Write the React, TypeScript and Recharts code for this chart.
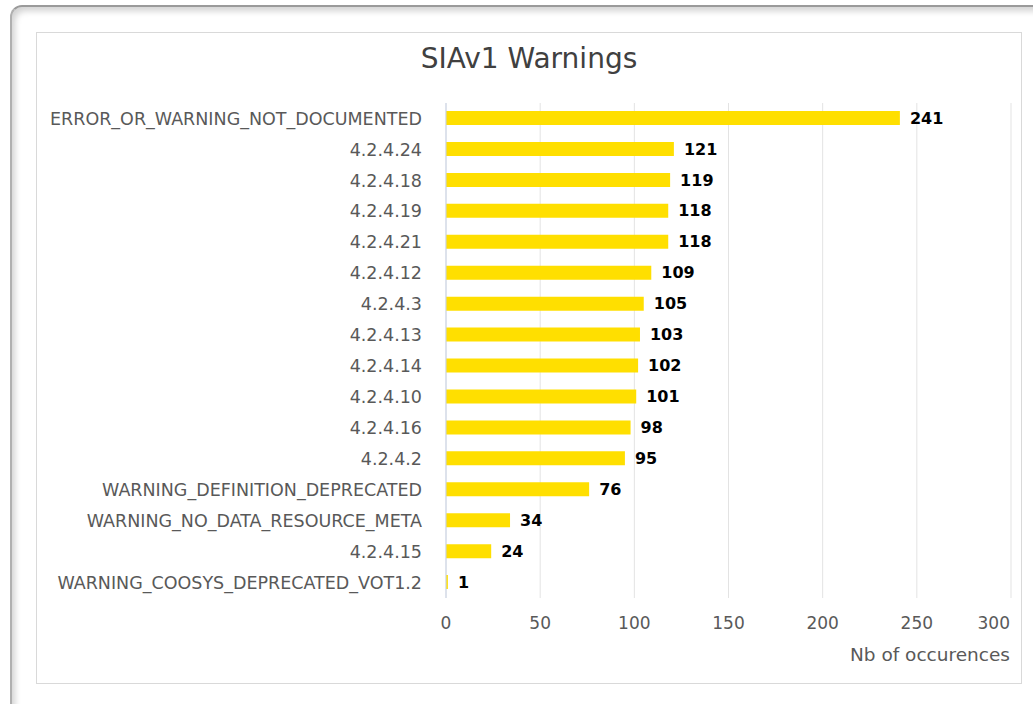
import { BarChart, Bar, XAxis, YAxis, CartesianGrid, LabelList } from "recharts";

const categories = [
  "ERROR_OR_WARNING_NOT_DOCUMENTED",
  "4.2.4.24",
  "4.2.4.18",
  "4.2.4.19",
  "4.2.4.21",
  "4.2.4.12",
  "4.2.4.3",
  "4.2.4.13",
  "4.2.4.14",
  "4.2.4.10",
  "4.2.4.16",
  "4.2.4.2",
  "WARNING_DEFINITION_DEPRECATED",
  "WARNING_NO_DATA_RESOURCE_META",
  "4.2.4.15",
  "WARNING_COOSYS_DEPRECATED_VOT1.2",
];
const counts = [241, 121, 119, 118, 118, 109, 105, 103, 102, 101, 98, 95, 76, 34, 24, 1];
const xTicks = [0, 50, 100, 150, 200, 250, 300];

const data = categories.map((name, i) => ({ name, count: counts[i] }));

const FONT = "'DejaVu Sans', Verdana, sans-serif";

const XTick = (props: any) => {
  const { x, y, payload } = props;
  const last = payload.value === xTicks[xTicks.length - 1];
  return (
    <text
      x={last ? x + 1 : x}
      y={y}
      dy="0.71em"
      textAnchor={last ? "end" : "middle"}
      fill="#595959"
      fontSize={17}
      fontFamily={FONT}
    >
      {payload.value}
    </text>
  );
};

export default function App() {
  return (
    <div
      style={{
        position: "absolute",
        left: 0,
        top: 0,
        width: 1033,
        height: 704,
        background: "#fff",
        overflow: "hidden",
      }}
    >
      {/* window frame */}
      <div
        style={{
          position: "absolute",
          left: 10,
          top: 5,
          width: 1200,
          height: 900,
          borderRadius: 12,
          borderTop: "2px solid #9a9a9a",
          borderLeft: "2px solid #b0b0b0",
          boxShadow: "inset 3px 4px 6px rgba(0,0,0,0.18)",
        }}
      />
      {/* chart box */}
      <div
        style={{
          position: "absolute",
          left: 36,
          top: 32,
          width: 984,
          height: 650,
          border: "1px solid #d9d9d9",
          background: "#fff",
        }}
      >
        <div
          style={{
            position: "absolute",
            left: 0,
            width: 984,
            top: 9,
            textAlign: "center",
            fontFamily: FONT,
            fontSize: 28,
            color: "#404040",
          }}
        >
          SIAv1 Warnings
        </div>
        <BarChart
          width={984}
          height={650}
          data={data}
          layout="vertical"
          margin={{ top: 70, right: 10, bottom: 0, left: 0 }}
          barSize={14}
        >
          <CartesianGrid horizontal={false} stroke="#e3e3e3" />
          <XAxis
            type="number"
            domain={[0, 300]}
            ticks={xTicks}
            axisLine={false}
            tickLine={false}
            tickSize={0}
            tickMargin={19}
            height={85}
            tick={<XTick />}
            label={{
              content: ({ viewBox }: any) => (
                <text
                  x={viewBox.x + viewBox.width - 1}
                  y={viewBox.y + viewBox.height - 22}
                  textAnchor="end"
                  fill="#595959"
                  fontSize={18.5}
                  fontFamily={FONT}
                >
                  Nb of occurences
                </text>
              ),
            }}
          />
          <YAxis
            type="category"
            dataKey="name"
            width={409}
            axisLine={{ stroke: "#c9d3e6" }}
            tickLine={false}
            tickMargin={18}
            interval={0}
            tick={{ fill: "#595959", fontSize: 17.5, fontFamily: FONT }}
          />
          <Bar dataKey="count" fill="#FFDF00" isAnimationActive={false}>
            <LabelList
              dataKey="count"
              position="right"
              offset={10}
              fill="#000"
              fontSize={16}
              fontWeight="bold"
              fontFamily={FONT}
            />
          </Bar>
        </BarChart>
      </div>
    </div>
  );
}
